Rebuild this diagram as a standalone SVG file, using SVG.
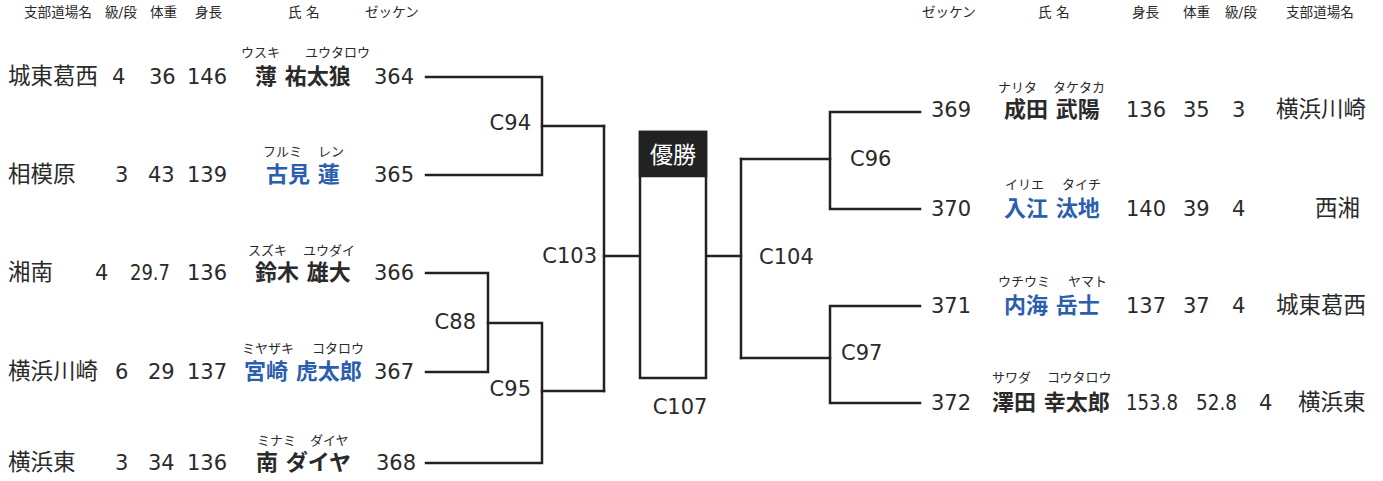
<svg xmlns="http://www.w3.org/2000/svg" width="1383" height="481" viewBox="0 0 1383 481">
<style>
text{font-family:"DejaVu Sans","Noto Sans CJK JP",sans-serif;fill:#2a2a2a}
.h{font-size:13.6px}
.t{font-size:21px}
.j{font-size:22.5px}
.f{font-size:13px}
.n{font-size:22px;font-weight:bold}
.b{fill:#2b5ead}
.e{text-anchor:end}
.m{text-anchor:middle}
.ln{fill:none;stroke:#222;stroke-width:2.5;stroke-linecap:square}
</style>
<rect width="1383" height="481" fill="#fff"/>
<g id="header-left">
<text x="24" y="17" class="h">支部道場名</text>
<text x="105" y="17" class="h">級/段</text>
<text x="150" y="17" class="h">体重</text>
<text x="195" y="17" class="h">身長</text>
<text x="288" y="17" class="h">氏 名</text>
<text x="365" y="17" class="h">ゼッケン</text>
</g>
<g id="header-right">
<text x="922" y="17" class="h">ゼッケン</text>
<text x="1038" y="17" class="h">氏 名</text>
<text x="1132" y="17" class="h">身長</text>
<text x="1183" y="17" class="h">体重</text>
<text x="1225" y="17" class="h">級/段</text>
<text x="1286" y="17" class="h">支部道場名</text>
</g>
<g id="p364">
<text x="8" y="84" class="j">城東葛西</text>
<text x="112" y="84" class="t">4</text>
<text x="149" y="84" class="t">36</text>
<text x="187" y="84" class="t">146</text>
<text x="241" y="57" class="f">ウスキ</text>
<text x="305" y="57" class="f">ユウタロウ</text>
<text x="255" y="84" class="n">薄 祐太狼</text>
<text x="374" y="84" class="t">364</text>
</g>
<g id="p365">
<text x="8" y="182" class="j">相模原</text>
<text x="115" y="182" class="t">3</text>
<text x="148" y="182" class="t">43</text>
<text x="187" y="182" class="t">139</text>
<text x="263" y="156" class="f">フルミ</text>
<text x="318" y="156" class="f">レン</text>
<text x="266" y="182" class="n b">古見 蓮</text>
<text x="374" y="182" class="t">365</text>
</g>
<g id="p366">
<text x="8" y="280" class="j">湘南</text>
<text x="95" y="280" class="t">4</text>
<text x="130" y="280" class="t" textLength="40" lengthAdjust="spacingAndGlyphs">29.7</text>
<text x="187" y="280" class="t">136</text>
<text x="248" y="255" class="f">スズキ</text>
<text x="303" y="255" class="f">ユウダイ</text>
<text x="255" y="280" class="n">鈴木 雄大</text>
<text x="374" y="280" class="t">366</text>
</g>
<g id="p367">
<text x="8" y="379" class="j">横浜川崎</text>
<text x="115" y="379" class="t">6</text>
<text x="148" y="379" class="t">29</text>
<text x="187" y="379" class="t">137</text>
<text x="242" y="353" class="f">ミヤザキ</text>
<text x="312" y="353" class="f">コタロウ</text>
<text x="244" y="379" class="n b">宮崎 虎太郎</text>
<text x="374" y="379" class="t">367</text>
</g>
<g id="p368">
<text x="8" y="470" class="j">横浜東</text>
<text x="115" y="470" class="t">3</text>
<text x="148" y="470" class="t">34</text>
<text x="187" y="470" class="t">136</text>
<text x="257" y="445" class="f">ミナミ</text>
<text x="310" y="445" class="f">ダイヤ</text>
<text x="256" y="470" class="n">南 ダイヤ</text>
<text x="376" y="470" class="t">368</text>
</g>
<g id="p369">
<text x="931" y="117" class="t">369</text>
<text x="998" y="92" class="f">ナリタ</text>
<text x="1053" y="92" class="f">タケタカ</text>
<text x="1004" y="117" class="n">成田 武陽</text>
<text x="1126" y="117" class="t">136</text>
<text x="1183" y="117" class="t">35</text>
<text x="1232" y="117" class="t">3</text>
<text x="1276" y="117" class="j">横浜川崎</text>
</g>
<g id="p370">
<text x="931" y="216" class="t">370</text>
<text x="1005" y="189" class="f">イリエ</text>
<text x="1062" y="189" class="f">タイチ</text>
<text x="1004" y="216" class="n b">入江 汰地</text>
<text x="1126" y="216" class="t">140</text>
<text x="1183" y="216" class="t">39</text>
<text x="1232" y="216" class="t">4</text>
<text x="1315" y="216" class="j">西湘</text>
</g>
<g id="p371">
<text x="931" y="313" class="t">371</text>
<text x="998" y="286" class="f">ウチウミ</text>
<text x="1068" y="286" class="f">ヤマト</text>
<text x="1004" y="313" class="n b">内海 岳士</text>
<text x="1126" y="313" class="t">137</text>
<text x="1183" y="313" class="t">37</text>
<text x="1232" y="313" class="t">4</text>
<text x="1276" y="313" class="j">城東葛西</text>
</g>
<g id="p372">
<text x="931" y="410" class="t">372</text>
<text x="992" y="382" class="f">サワダ</text>
<text x="1047" y="382" class="f">コウタロウ</text>
<text x="992" y="410" class="n">澤田 幸太郎</text>
<text x="1126" y="410" class="t" textLength="52" lengthAdjust="spacingAndGlyphs">153.8</text>
<text x="1196" y="410" class="t" textLength="41" lengthAdjust="spacingAndGlyphs">52.8</text>
<text x="1259" y="410" class="t">4</text>
<text x="1298" y="410" class="j">横浜東</text>
</g>
<g id="connectors" class="ln">
<path d="M426 77H542V175H426"/>
<path d="M542 126H604"/>
<path d="M426 273H488V372H426"/>
<path d="M488 323H542V463H426"/>
<path d="M542 391H604"/>
<path d="M604 126V391"/>
<path d="M604 256H640"/>
<path d="M706 256H741"/>
<path d="M741 159V358"/>
<path d="M741 159H830"/>
<path d="M741 358H830"/>
<path d="M920 112H830V209H920"/>
<path d="M920 306H830V403H920"/>
</g>
<g id="C94"><text x="531" y="130" class="t e">C94</text></g>
<g id="C88"><text x="476" y="329" class="t e">C88</text></g>
<g id="C95"><text x="531" y="396" class="t e">C95</text></g>
<g id="C103"><text x="597" y="263" class="t e">C103</text></g>
<g id="C107">
<rect x="640" y="132" width="66" height="246" fill="#fff" stroke="#222" stroke-width="2.5"/>
<rect x="640" y="132" width="66" height="44" fill="#222" stroke="#222" stroke-width="2.5"/>
<text x="673" y="163" class="m" style="fill:#fff;font-size:23px">優勝</text>
<text x="680" y="414" class="t m">C107</text>
</g>
<g id="C104"><text x="759" y="264" class="t">C104</text></g>
<g id="C96"><text x="850" y="166" class="t">C96</text></g>
<g id="C97"><text x="841" y="360" class="t">C97</text></g>
</svg>
